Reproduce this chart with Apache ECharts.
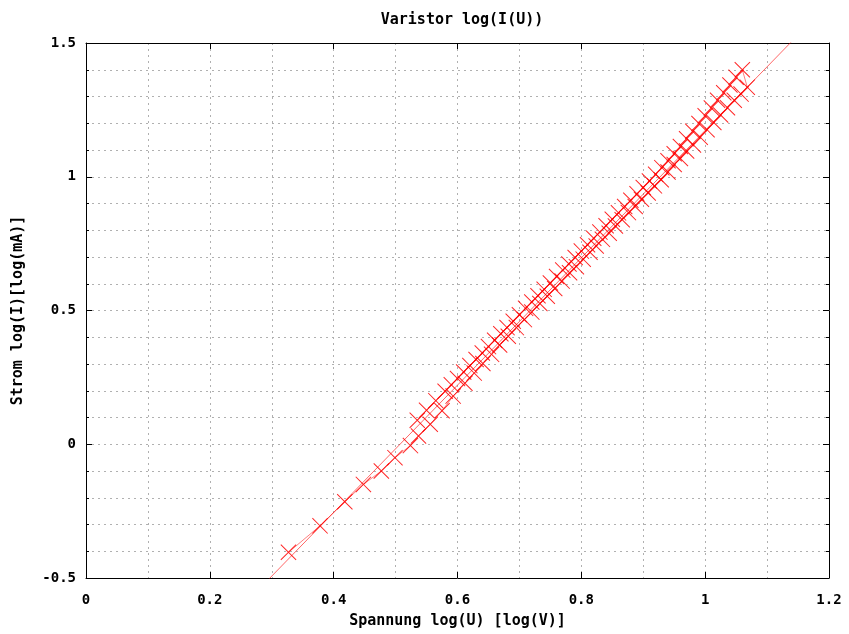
<!DOCTYPE html>
<html><head><meta charset="utf-8">
<script src="https://cdn.jsdelivr.net/npm/echarts@6/dist/echarts.min.js"></script>
<style>html,body{margin:0;padding:0;background:#fff}#c{width:849px;height:634px}</style>
</head><body><div id="c"></div>
<script>
// measured data, sweep up (lower track)
const uUp = [0.327,0.378,0.418,0.448,0.477,0.499,0.524,0.537,0.556,0.575,0.593,0.612,0.627,0.641,0.655,0.668,0.682,0.695,0.708,0.720,0.733,0.745,0.757,0.769,0.781,0.792,0.803,0.814,0.824,0.834,0.845,0.855,0.866,0.876,0.887,0.897,0.908,0.918,0.929,0.940,0.950,0.960,0.970,0.981,0.992,1.003,1.014,1.025,1.036,1.047,1.058,1.068];
const iUp = [-0.404,-0.305,-0.215,-0.150,-0.100,-0.050,-0.005,0.031,0.075,0.125,0.180,0.228,0.266,0.302,0.336,0.371,0.404,0.436,0.466,0.494,0.526,0.553,0.582,0.610,0.641,0.664,0.692,0.718,0.741,0.766,0.789,0.816,0.839,0.866,0.889,0.916,0.939,0.966,0.989,1.018,1.046,1.068,1.096,1.119,1.148,1.176,1.203,1.231,1.258,1.286,1.309,1.335];
// measured data, sweep down (upper track)
const uDown = [1.060,1.050,1.040,1.030,1.020,1.010,1.000,0.990,0.980,0.970,0.960,0.950,0.940,0.930,0.920,0.910,0.900,0.890,0.880,0.870,0.860,0.850,0.840,0.830,0.820,0.810,0.800,0.790,0.780,0.770,0.760,0.750,0.740,0.730,0.720,0.710,0.700,0.690,0.680,0.670,0.660,0.650,0.640,0.630,0.620,0.610,0.600,0.590,0.580,0.565,0.550,0.535];
const iDown = [1.400,1.372,1.343,1.314,1.286,1.257,1.228,1.199,1.170,1.142,1.113,1.086,1.060,1.034,1.009,0.984,0.960,0.936,0.912,0.889,0.865,0.841,0.817,0.793,0.770,0.746,0.722,0.698,0.674,0.651,0.627,0.603,0.579,0.555,0.532,0.508,0.484,0.460,0.436,0.413,0.389,0.365,0.341,0.317,0.294,0.270,0.246,0.222,0.198,0.163,0.127,0.090];
// linear fit: log(I) = slope*log(U) + offset
const fitSlope = 2.38;
const fitOffset = -1.207;
const fitU = [0.25, 1.2];
const xTicks = [0, 0.2, 0.4, 0.6, 0.8, 1, 1.2];
const yTicks = [-0.5, 0, 0.5, 1, 1.5];

const data = uUp.map((u,i)=>[u,iUp[i]]).concat(uDown.map((u,i)=>[u,iDown[i]]));
const fitData = fitU.map(u=>[u, fitSlope*u + fitOffset]);

const font = '"DejaVu Sans Mono", monospace';
const lbl = {fontFamily: font, fontWeight: 'bold', fontSize: 15, color: '#000'};
const tickLbl = {fontFamily: font, fontWeight: 'bold', fontSize: 14, color: '#000'};
const dashed = {show:true, lineStyle:{color:'#b0b0b0', type:[2,4], width:1}};
const fmt = v => (Math.abs(v) < 1e-9 ? '0' : String(Math.round(v*10)/10));
const crossPath = 'path://M0,0.7L0.7,0L8,7.3L15.3,0L16,0.7L8.7,8L16,15.3L15.3,16L8,8.7L0.7,16L0,15.3L7.3,8Z';

const chart = echarts.init(document.getElementById('c'), null, {renderer:'canvas'});
chart.setOption({
  animation: false,
  backgroundColor: '#fff',
  title: {text: 'Varistor log(I(U))', left: 457, top: 8, textAlign: 'center',
    textStyle: lbl},
  grid: {left: 86, right: 20, top: 43, bottom: 55},
  xAxis: [{
    type: 'value', min: xTicks[0], max: xTicks[xTicks.length-1], interval: 0.2,
    axisLine: {show:true, onZero:false, lineStyle:{color:'#000', width:1}},
    axisTick: {show:true, inside:true, length:6, lineStyle:{color:'#000'}},
    minorTick: {show:false, splitNumber:2},
    axisLabel: Object.assign({margin: 15, formatter: fmt}, tickLbl),
    splitLine: dashed, minorSplitLine: dashed,
    name: 'Spannung log(U) [log(V)]', nameLocation: 'middle', nameGap: 36,
    nameTextStyle: lbl
  },{
    type: 'value', position: 'top', min: xTicks[0], max: xTicks[xTicks.length-1], interval: 0.2,
    axisLine: {show:true, onZero:false, lineStyle:{color:'#000', width:1}},
    axisTick: {show:true, inside:true, length:6, lineStyle:{color:'#000'}},
    axisLabel: {show:false}, splitLine: {show:false}
  }],
  yAxis: [{
    type: 'value', min: yTicks[0], max: yTicks[yTicks.length-1], interval: 0.5,
    axisLine: {show:true, onZero:false, lineStyle:{color:'#000', width:1}},
    axisTick: {show:true, inside:true, length:6, lineStyle:{color:'#000'}},
    minorTick: {show:true, splitNumber:5, length:3, lineStyle:{color:'#000'}},
    axisLabel: Object.assign({margin: 10, formatter: fmt}, tickLbl),
    splitLine: dashed, minorSplitLine: dashed,
    name: 'Strom log(I)[log(mA)]', nameLocation: 'middle', nameGap: 60, nameRotate: 90,
    nameTextStyle: lbl
  },{
    type: 'value', position: 'right', min: yTicks[0], max: yTicks[yTicks.length-1], interval: 0.5,
    axisLine: {show:true, onZero:false, lineStyle:{color:'#000', width:1}},
    axisTick: {show:true, inside:true, length:6, lineStyle:{color:'#000'}},
    minorTick: {show:true, splitNumber:5, length:3, lineStyle:{color:'#000'}},
    axisLabel: {show:false}, splitLine: {show:false}
  }],
  series: [{
    type: 'line', data: fitData, symbol: 'none', clip: true,
    lineStyle: {color: '#ff0000', width: 1, opacity: 0.6}, z: 3
  },{
    type: 'line', data: data, clip: true,
    symbol: crossPath, symbolSize: 16,
    itemStyle: {color: '#ff0000', opacity: 0.85},
    lineStyle: {color: '#ff0000', width: 1, opacity: 0.5}, z: 4
  }]
});
</script></body></html>
